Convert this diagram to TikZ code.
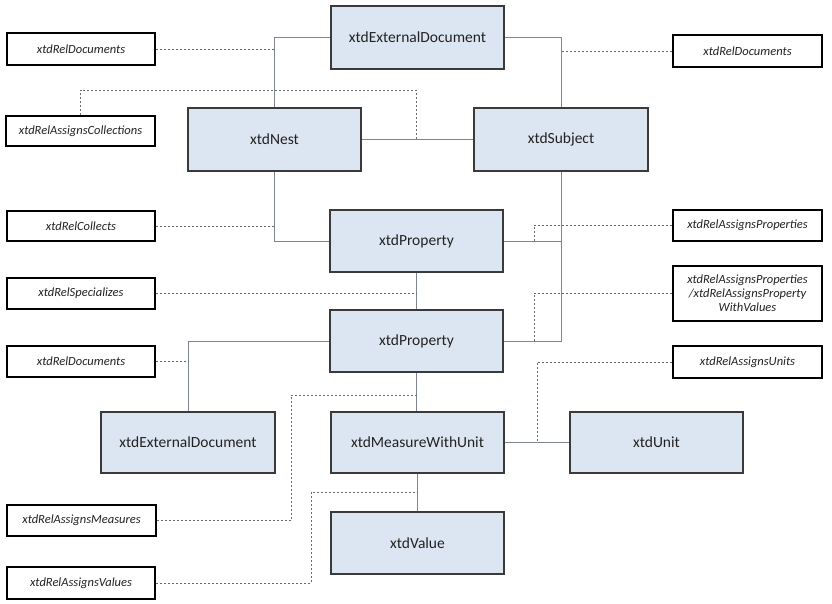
\documentclass[tikz,border=0pt]{standalone}
\usepackage{fontspec}
\setmainfont{Carlito}
\usetikzlibrary{calc}
\definecolor{entfill}{HTML}{DCE6F2}
\definecolor{entdraw}{HTML}{3A3A3A}
\definecolor{connc}{HTML}{7F8590}
\definecolor{dotc}{HTML}{6A6A6A}
\definecolor{txtc}{HTML}{222222}
\tikzset{
  entity/.style={draw=entdraw, line width=1.5pt, fill=entfill, inner sep=0pt,
    font=\fontsize{15.5}{18}\selectfont, text=txtc},
  relbox/.style={draw=black, line width=1.3pt, fill=white, inner sep=0pt,
    font=\fontsize{12.5}{15}\selectfont\itshape, text=txtc, align=center},
  conn/.style={draw=connc, line width=1pt},
  relline/.style={draw=dotc, line width=0.9pt, dash pattern=on 2pt off 2pt},
}
\newcommand{\ebox}[6]{% name, x1,y1,x2,y2, text
  \node[entity, minimum width={#4-#2}, minimum height={#5-#3}] (#1) at ({(#2+#4)/2},{(#3+#5)/2}) {#6};}
\newcommand{\rbox}[6]{%
  \node[relbox, minimum width={#4-#2}, minimum height={#5-#3}] (#1) at ({(#2+#4)/2},{(#3+#5)/2}) {#6};}
\begin{document}
\begin{tikzpicture}[x=1pt,y=-1pt]
\useasboundingbox[fill=white] (0,0) rectangle (832,603);
% entities
\ebox{extdoc}{331}{6}{504}{69}{xtdExternalDocument}
\ebox{nest}{188}{108}{361}{171}{xtdNest}
\ebox{subject}{474}{108}{648}{171}{xtdSubject}
\ebox{propa}{330}{210}{503}{272}{xtdProperty}
\ebox{propb}{330}{310}{503}{372}{xtdProperty}
\ebox{extdocb}{101}{412}{275}{473}{xtdExternalDocument}
\ebox{mwu}{331}{412}{504}{473}{xtdMeasureWithUnit}
\ebox{unit}{570}{412}{743}{473}{xtdUnit}
\ebox{value}{331}{512}{504}{574}{xtdValue}
% relationship boxes
\rbox{rdocl}{7}{33}{155}{65}{xtdRelDocuments}
\rbox{rcoll}{6}{116}{155}{146}{xtdRelAssignsCollections}
\rbox{rcollects}{7}{211}{155}{241}{xtdRelCollects}
\rbox{rspec}{7}{278}{155}{309}{xtdRelSpecializes}
\rbox{rdocl2}{7}{346}{155}{377}{xtdRelDocuments}
\rbox{rmeas}{7}{505}{156}{536}{xtdRelAssignsMeasures}
\rbox{rvals}{7}{567}{155}{599}{xtdRelAssignsValues}
\rbox{rdocr}{673}{35}{822}{67}{xtdRelDocuments}
\rbox{rprops}{673}{210}{822}{241}{xtdRelAssignsProperties}
\rbox{rpropv}{673}{266}{822}{321}{xtdRelAssignsProperties\\[-1pt]/xtdRelAssignsProperty\\[-1pt]WithValues}
\rbox{runits}{673}{346}{822}{378}{xtdRelAssignsUnits}
% solid connectors
\draw[conn] (extdoc.west) -| (nest.north);
\draw[conn] (extdoc.east) -| (subject.north);
\draw[conn] (nest.east) -- (subject.west);
\draw[conn] (nest.south) |- (propa.west);
\draw[conn] (subject.south) |- (propb.east);
\draw[conn] (propa.east) -- (propa.east -| subject.south);
\draw[conn] (propa.south) -- (propb.north);
\draw[conn] (propb.west) -| (extdocb.north);
\draw[conn] (propb.south) -- (propb.south |- mwu.north);
\draw[conn] (mwu.east) -- (unit.west);
\draw[conn] (mwu.south) -- (mwu.south |- value.north);
% junction coordinates
\coordinate (jcolltop) at (416,90);
\coordinate (jcoll) at (416,139.5);
\coordinate (jprops) at (534,241);
\coordinate (jpropv) at (534,341);
\coordinate (junits) at (537,442.5);
\coordinate (jmeas) at (291,395);
\coordinate (jvals) at (311,492);
% dotted connectors
\draw[relline] (rdocl.east) -- (rdocl.east -| nest.north);
\draw[relline] (rcoll.north) |- (jcolltop) -- (jcoll);
\draw[relline] (rdocr.west) -- (rdocr.west -| subject.north);
\draw[relline] (rcollects.east) -- (rcollects.east -| nest.south);
\draw[relline] (rspec.east) -- (rspec.east -| propa.south);
\draw[relline] (rdocl2.east) -- (rdocl2.east -| extdocb.north);
\draw[relline] (rprops.west) -| (jprops);
\draw[relline] (rpropv.west) -| (jpropv);
\draw[relline] (runits.west) -| (junits);
\draw[relline] (rmeas.east) -| (jmeas) -- (jmeas -| propb.south);
\draw[relline] (rvals.east) -| (jvals) -- (jvals -| mwu.south);
\end{tikzpicture}
\end{document}
